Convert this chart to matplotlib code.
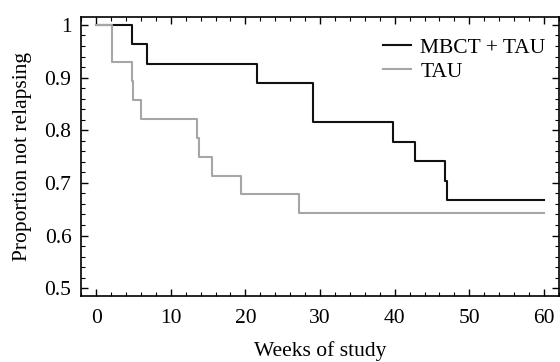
import matplotlib.pyplot as plt
from matplotlib.ticker import MultipleLocator

plt.rcParams['font.family'] = ['Liberation Serif', 'DejaVu Serif']

# Kaplan-Meier step points (weeks, proportion not relapsing)
mbct_weeks = [0, 4.8, 6.8, 21.5, 29.1, 39.8, 42.7, 46.8, 47.0, 60]
mbct_prop = [1.0, 0.963, 0.926, 0.889, 0.815, 0.778, 0.741, 0.704, 0.667, 0.667]

tau_weeks = [0, 2.1, 4.8, 4.9, 6.0, 13.5, 13.8, 15.5, 19.4, 27.2, 60]
tau_prop = [1.0, 0.929, 0.893, 0.857, 0.821, 0.786, 0.750, 0.714, 0.679, 0.643, 0.643]

fs = 15.5

fig = plt.figure(figsize=(5.6, 3.62), dpi=100)
ax = fig.add_axes([0.145, 0.182, 0.853, 0.771])

ax.step(mbct_weeks, mbct_prop, where='post', color='#111111', lw=1.5, label='MBCT + TAU')
ax.step(tau_weeks, tau_prop, where='post', color='#a6a6a6', lw=1.5, label='TAU')

ax.set_xlim(-2, 62)
ax.set_ylim(0.485, 1.015)
ax.xaxis.set_major_locator(MultipleLocator(10))
ax.xaxis.set_minor_locator(MultipleLocator(2))
ax.yaxis.set_minor_locator(MultipleLocator(0.02))
ax.set_yticks([0.5, 0.6, 0.7, 0.8, 0.9, 1.0])
ax.set_yticklabels(['0.5', '0.6', '0.7', '0.8', '0.9', '1'])
ax.tick_params(which='both', direction='in', top=True, right=True, labelsize=fs)
ax.tick_params(which='major', length=5, width=1)
ax.tick_params(which='minor', length=3, width=0.8)
ax.tick_params(axis='x', which='major', pad=9)
ax.tick_params(axis='y', which='major', pad=7)
for s in ax.spines.values():
    s.set_linewidth(1.2)

ax.set_xlabel('Weeks of study', fontsize=fs, labelpad=10)
ax.set_ylabel('Proportion not relapsing', fontsize=fs, labelpad=9)

ax.legend(loc='upper right', bbox_to_anchor=(1.015, 1.0), frameon=False,
          fontsize=fs, handlelength=1.3, handletextpad=0.45,
          labelspacing=0.2, borderaxespad=0.55)

fig.savefig('out.png', dpi=100)
